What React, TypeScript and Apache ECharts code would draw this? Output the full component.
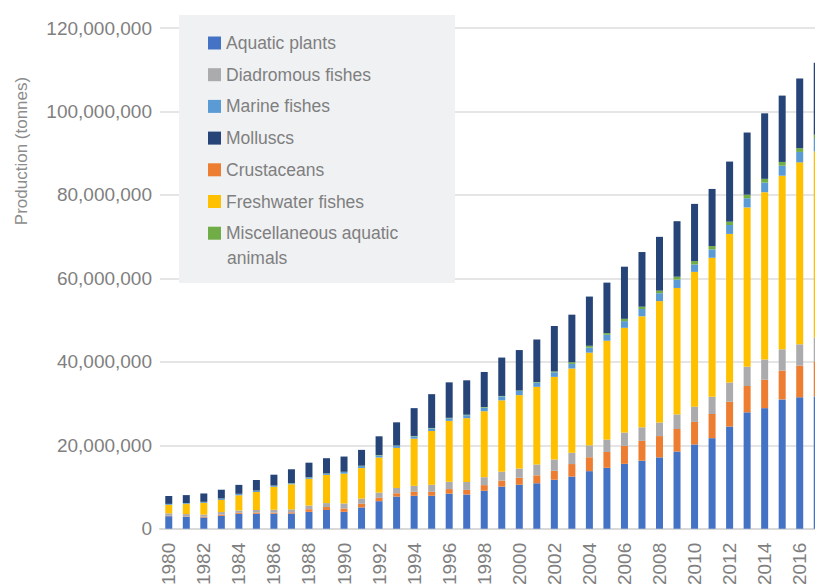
import React, { useEffect, useRef } from "react";
import * as echarts from "echarts";

const years = [
  "1980","1981","1982","1983","1984","1985","1986","1987","1988","1989",
  "1990","1991","1992","1993","1994","1995","1996","1997","1998","1999",
  "2000","2001","2002","2003","2004","2005","2006","2007","2008","2009",
  "2010","2011","2012","2013","2014","2015","2016","2017",
];

// values in million tonnes
const aquaticPlants = [
  3.0, 2.86, 2.7, 3.1, 3.57, 3.6, 3.6, 3.65, 4.05, 4.5,
  4.05, 5.1, 6.6, 7.7, 7.9, 7.9, 8.4, 8.2, 9.1, 10.1,
  10.55, 10.9, 11.75, 12.5, 13.8, 14.6, 15.55, 16.3, 17.1, 18.5,
  20.2, 21.7, 24.5, 27.9, 28.9, 31.0, 31.5, 31.7,
];
const crustaceans = [
  0.1, 0.1, 0.2, 0.3, 0.25, 0.3, 0.25, 0.3, 0.63, 0.7,
  0.8, 0.87, 0.8, 0.8, 0.95, 0.95, 1.1, 1.1, 1.35, 1.43,
  1.67, 1.9, 2.14, 3.0, 3.33, 3.8, 4.3, 4.76, 5.1, 5.4,
  5.4, 5.8, 5.95, 6.3, 6.8, 6.9, 7.6, 8.4,
];
const diadromousFishes = [
  0.6, 0.55, 0.5, 0.6, 0.55, 0.6, 0.7, 0.7, 0.87, 0.95,
  1.2, 1.27, 1.27, 1.27, 1.43, 1.67, 1.75, 1.9, 1.9, 2.14,
  2.2, 2.6, 2.7, 2.7, 2.86, 2.95, 3.2, 3.25, 3.25, 3.5,
  3.65, 4.13, 4.6, 4.6, 4.85, 5.1, 5.1, 5.7,
];
const freshwaterFishes = [
  2.0, 2.4, 2.8, 2.9, 3.65, 4.3, 5.5, 6.0, 6.43, 6.75,
  7.15, 7.3, 8.4, 9.6, 11.3, 12.9, 14.6, 15.3, 15.8, 17.1,
  17.6, 18.6, 19.8, 20.2, 22.2, 23.7, 25.1, 26.6, 29.1, 30.3,
  32.3, 33.3, 35.6, 38.2, 40.1, 41.6, 43.6, 44.6,
];
const marineFishes = [
  0.2, 0.2, 0.2, 0.3, 0.3, 0.3, 0.25, 0.25, 0.3, 0.3,
  0.4, 0.48, 0.48, 0.48, 0.55, 0.63, 0.63, 0.7, 0.87, 0.95,
  1.0, 1.0, 1.1, 1.1, 1.2, 1.43, 1.6, 1.75, 1.9, 2.0,
  1.8, 2.0, 2.14, 2.2, 2.3, 2.4, 2.5, 3.0,
];
const miscAnimals = [
  0.05, 0.05, 0.05, 0.05, 0.05, 0.05, 0.05, 0.05, 0.05, 0.05,
  0.05, 0.08, 0.1, 0.1, 0.1, 0.1, 0.1, 0.12, 0.15, 0.1,
  0.1, 0.15, 0.2, 0.4, 0.45, 0.4, 0.55, 0.55, 0.6, 0.7,
  0.8, 0.8, 0.8, 0.85, 0.9, 0.9, 0.9, 1.0,
];
const molluscs = [
  1.9, 1.9, 2.0, 2.1, 2.14, 2.5, 2.6, 3.3, 3.5, 3.65,
  3.65, 3.8, 4.5, 5.55, 6.67, 8.1, 8.5, 8.25, 8.4, 9.2,
  9.7, 10.2, 10.9, 11.4, 11.8, 12.1, 12.5, 13.1, 12.9, 13.3,
  13.7, 13.7, 14.4, 14.9, 15.7, 15.9, 16.7, 17.3,
];

const seriesDefs = [
  { name: "Aquatic plants", data: aquaticPlants, color: "#4472C4" },
  { name: "Crustaceans", data: crustaceans, color: "#ED7D31" },
  { name: "Diadromous fishes", data: diadromousFishes, color: "#ABABAE" },
  { name: "Freshwater fishes", data: freshwaterFishes, color: "#FFC000" },
  { name: "Marine fishes", data: marineFishes, color: "#5B9BD5" },
  { name: "Miscellaneous aquatic animals", data: miscAnimals, color: "#70AD47" },
  { name: "Molluscs", data: molluscs, color: "#264478" },
];

const legendOrder = [
  "Aquatic plants",
  "Diadromous fishes",
  "Marine fishes",
  "Molluscs",
  "Crustaceans",
  "Freshwater fishes",
  "Miscellaneous aquatic animals",
];

const yTicks = [0, 20000000, 40000000, 60000000, 80000000, 100000000, 120000000];

const FONT = "'Liberation Sans', Arial, sans-serif";
const TEXT_GRAY = "#7f7f7f";

export default function App() {
  const ref = useRef<HTMLDivElement>(null);
  useEffect(() => {
    if (!ref.current) return;
    const chart = echarts.init(ref.current, undefined, { renderer: "svg" });
    chart.setOption({
      animation: false,
      backgroundColor: "#ffffff",
      textStyle: { fontFamily: FONT },
      grid: { left: 160, right: 0, top: 28, bottom: 56 },
      xAxis: {
        type: "category",
        data: years,
        axisTick: { show: false },
        axisLine: { lineStyle: { color: "#d9d9d9", width: 2 } },
        axisLabel: {
          interval: 1,
          rotate: 90,
          margin: 14,
          fontSize: 19,
          color: TEXT_GRAY,
          fontFamily: FONT,
        },
      },
      yAxis: {
        type: "value",
        min: yTicks[0],
        max: yTicks[yTicks.length - 1],
        interval: yTicks[1] - yTicks[0],
        axisLine: { show: false },
        axisTick: { show: false },
        splitLine: { lineStyle: { color: "#dcdcdc", width: 1.5 } },
        axisLabel: {
          margin: 8,
          fontSize: 19,
          color: TEXT_GRAY,
          fontFamily: FONT,
          formatter: (v: number) => v.toLocaleString("en-US"),
        },
      },
      legend: {
        orient: "vertical",
        left: 179,
        top: 15,
        padding: [17.5, 57, 39.5, 29],
        itemWidth: 13,
        itemHeight: 13,
        itemGap: 10.7,
        icon: "rect",
        data: legendOrder,
        textStyle: {
          fontSize: 17.5,
          lineHeight: 21,
          color: TEXT_GRAY,
          fontFamily: FONT,
        },
        formatter: (name: string) =>
          name === "Miscellaneous aquatic animals" ? "Miscellaneous aquatic" : name,
        z: 10,
      },
      graphic: [
        {
          type: "rect",
          z: 1,
          silent: true,
          shape: { x: 179, y: 15, width: 276, height: 268 },
          style: { fill: "#f0f1f3" },
        },
        {
          type: "text",
          z: 11,
          x: 227,
          y: 258,
          style: {
            text: "animals",
            fontSize: 17.5,
            fontFamily: FONT,
            fill: TEXT_GRAY,
            verticalAlign: "middle",
            align: "left",
          },
        },
        {
          type: "text",
          x: 21,
          y: 151,
          rotation: Math.PI / 2,
          style: {
            text: "Production (tonnes)",
            fontSize: 17,
            fontFamily: FONT,
            fill: "#8c8c8c",
            align: "center",
            verticalAlign: "middle",
          },
        },
      ],
      series: seriesDefs.map((s) => ({
        name: s.name,
        type: "bar",
        stack: "total",
        barWidth: 7,
        itemStyle: { color: s.color },
        emphasis: { disabled: true },
        data: s.data.map((v) => Math.round(v * 1000000)),
      })),
    });
    return () => chart.dispose();
  }, []);
  return (
    <div
      style={{
        position: "absolute",
        left: 0,
        top: 0,
        width: 815,
        height: 588,
        overflow: "hidden",
      }}
    >
      <div ref={ref} style={{ width: 826, height: 588 }} />
    </div>
  );
}
